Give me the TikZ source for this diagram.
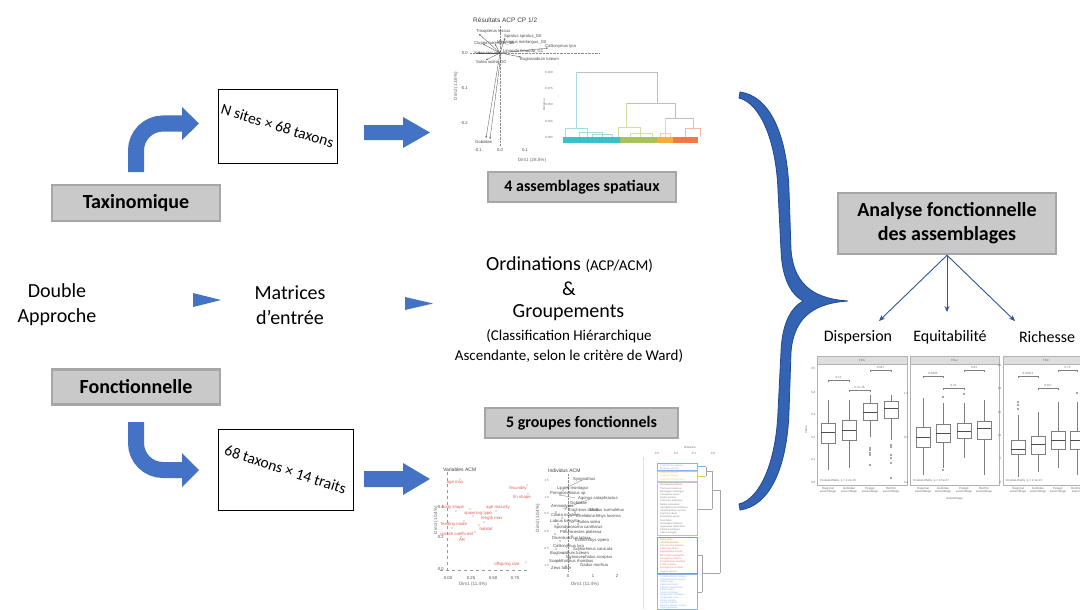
\documentclass[tikz,border=0pt]{standalone}
\usepackage{fontspec}
\setmainfont{Carlito}
\newfontfamily\plotfont{Liberation Sans}
\usetikzlibrary{arrows.meta}
\definecolor{arrowblue}{HTML}{4472C4}
\definecolor{bracefill}{HTML}{3463B3}
\definecolor{braceedge}{HTML}{1F4A93}
\definecolor{boxgray}{HTML}{C9C9C9}
\definecolor{boxedge}{HTML}{A6A6A6}
\definecolor{linkblue}{HTML}{2F5597}
\definecolor{acmred}{HTML}{E0605A}
\definecolor{dcyan}{HTML}{3CC0CC}
\definecolor{dgreen}{HTML}{A8C25E}
\definecolor{dorange}{HTML}{F6AE3A}
\definecolor{dred}{HTML}{F2784A}
\definecolor{pcyan}{HTML}{A6DCDF}
\definecolor{pgreen}{HTML}{CFE0A6}
\definecolor{porange}{HTML}{F8D293}
\definecolor{pred}{HTML}{F6B7A0}
\definecolor{lblue}{HTML}{8DB3E2}
\definecolor{lyellow}{HTML}{EBCB63}
\definecolor{lred}{HTML}{E07A72}
\definecolor{navy}{HTML}{2A2F8A}
\newcommand\mybxp[6]{%
  \draw[bxline] (#1,#2) -- (#1,#3) (#1,#5) -- (#1,#6);
  \draw[bxline, fill=white] (#1-7,#3) rectangle (#1+7,#5);
  \draw[bxmed] (#1-7,#4) -- (#1+7,#4);}
\newcommand\mypbr[4]{%
  \draw[bxline] (#1,#3+2) -- (#1,#3) -- (#2,#3) -- (#2,#3+2);
  \node[ttxt] at ({(#1+#2)/2},#3-2.8) {#4};}
\newcommand\myout[2]{\fill[black!70] (#1,#2) circle (0.8);}
\begin{document}
\begin{tikzpicture}[x=1pt,y=-1pt,
  graybox/.style={draw=boxedge, fill=boxgray, line width=2.5pt, inner sep=0pt, align=center, font=\bfseries\fontsize{20}{24}\selectfont},
  matbox/.style={draw=black, line width=0.9pt, fill=white, inner sep=0pt, font=\fontsize{15.5}{18}\selectfont},
  lbl/.style={inner sep=0pt, align=center, font=\fontsize{20}{25}\selectfont},
  sublbl/.style={inner sep=0pt, align=center, font=\fontsize{15}{18}\selectfont},
  indlbl/.style={inner sep=0pt, font=\fontsize{16}{19}\selectfont},
  curvarrow/.style={draw=arrowblue, line width=16pt},
  thinarrow/.style={draw=linkblue, line width=0.9pt, -{Stealth[length=6pt,width=5pt]}},
  ptitle/.style={inner sep=0pt, font=\plotfont\fontsize{6.5}{7}\selectfont, text=black!75},
  ptxt/.style={inner sep=0pt, font=\plotfont\fontsize{4.2}{5}\selectfont, text=black!70},
  atxt/.style={inner sep=0pt, font=\plotfont\fontsize{4.6}{5}\selectfont, text=black!60},
  rtxt/.style={inner sep=0pt, font=\plotfont\fontsize{4.3}{5}\selectfont, text=acmred},
  ttxt/.style={inner sep=0pt, font=\plotfont\fontsize{3}{3.4}\selectfont, text=black!55},
  leaf/.style={inner sep=0pt, anchor=west, font=\plotfont\fontsize{2.4}{3}\selectfont},
  pdot/.style={densely dotted, draw=black!45, line width=0.4pt},
  pdash/.style={dashed, draw=black!40, line width=0.4pt},
  pvec/.style={draw=black!65, line width=0.35pt, -{Stealth[length=2pt,width=1.6pt]}},
  dlink/.style={line width=0.6pt},
  bxline/.style={draw=black!50, line width=0.35pt},
  bxmed/.style={draw=black!70, line width=0.8pt},
  pframe/.style={draw=black!30, line width=0.4pt},
  pstrip/.style={draw=black!30, fill=black!13, line width=0.4pt}
]
\useasboundingbox (0,0) rectangle (1080,610);
\fill[white] (0,0) rectangle (1080,610);

% ---------------- left column
\node[graybox, minimum width=168pt, minimum height=36pt] (taxo) at (136,203) {Taxinomique};
\node[graybox, minimum width=168pt, minimum height=35pt] (fonc) at (136,387) {Fonctionnelle};
\node[lbl] (dbl) at (57,305) {Double\\Approche};
\node[lbl] (mat) at (290,305) {Matrices\\d’entrée};

% curved block arrows
\draw[curvarrow, rounded corners=27pt] (136,172) -- (136,123.5) -- (184,123.5);
\fill[arrowblue] (182,107) -- (199,123.5) -- (182,140) -- cycle;
\draw[curvarrow, rounded corners=27pt] (136,422) -- (136,470) -- (184,470);
\fill[arrowblue] (182,453) -- (199,470) -- (182,487) -- cycle;

% matrices boxes
\node[matbox, minimum width=119pt, minimum height=74pt] (m1) at (277.5,126) {\rotatebox{-17}{N sites × 68 taxons}};
\node[matbox, minimum width=135pt, minimum height=81pt] (m2) at (285.5,469.5) {\rotatebox{-18}{68 taxons × 14 traits}};

% straight block arrows
\fill[arrowblue] (364,125) -- (403,125) -- (403,117) -- (430,132.5) -- (403,148) -- (403,140) -- (364,140) -- cycle;
\fill[arrowblue] (364,471) -- (403,471) -- (403,463) -- (430,479) -- (403,495) -- (403,487) -- (364,487) -- cycle;

% small triangles
\fill[arrowblue] (193,293) -- (221,300) -- (193,307) -- cycle;
\fill[arrowblue] (405,297) -- (433,303.5) -- (405,310) -- cycle;

% centre texts
\node[lbl] (ord) at (569.5,265) {Ordinations {\fontsize{15}{18}\selectfont(ACP/ACM)}};
\node[lbl] (amp) at (569,289) {\&};
\node[lbl] (grp) at (568.5,313) {Groupements};
\node[sublbl] (cla) at (569,336) {(Classification Hiérarchique};
\node[sublbl] (asc) at (569,356) {Ascendante, selon le critère de Ward)};

\node[graybox, font=\bfseries\fontsize{16}{19}\selectfont, minimum width=188pt, minimum height=30pt] (assem) at (582,187) {4 assemblages spatiaux};
\node[graybox, font=\bfseries\fontsize{16}{19}\selectfont, minimum width=193pt, minimum height=30pt] (grpf) at (581.5,423) {5 groupes fonctionnels};

% ---------------- ACP plot
\node[ptitle, anchor=west] (acpT) at (473,20) {Résultats ACP CP 1/2};
\draw[pdot] (500,26) -- (500,146);
\draw[pdot] (470,53) -- (600,53);
\node[ptxt, anchor=east] at (468,53) {0.0};
\node[ptxt, anchor=east] at (468,88) {-0.1};
\node[ptxt, anchor=east] at (468,123) {-0.2};
\node[ptxt] at (478,150) {-0.1};
\node[ptxt] at (500,150) {0.0};
\node[ptxt] at (525,150) {0.1};
\node[atxt] at (532,160) {Dim1 (28.5\%)};
\node[atxt, rotate=90] at (456,86) {Dim2 (13.8\%)};
\coordinate (o) at (500,53);
\draw[pvec] (o) -- (479,34);
\draw[pvec] (o) -- (505,38);
\draw[pvec] (o) -- (483,44);
\draw[pvec] (o) -- (495,44);
\draw[pvec] (o) -- (548,48);
\draw[pvec] (o) -- (478,53);
\draw[pvec] (o) -- (486,60);
\draw[pvec] (o) -- (521,57);
\draw[pvec] (o) -- (486,138);
\draw[pvec] (501,54) -- (490,139);
\node[ptxt, anchor=west] at (476,31) {Trisopterus luscus};
\node[ptxt, anchor=west] at (504,36) {Spratus spratus\_G0};
\node[ptxt, anchor=west] at (474,43) {Clupea harengus\_G0};
\node[ptxt, anchor=west] at (497,42) {Merlangius merlangus\_G0};
\node[ptxt, anchor=west] at (545,46.5) {Callionymus lyra};
\node[ptxt, anchor=west] at (474,53) {Solea lascaris};
\node[ptxt, anchor=west] at (503,51) {Limanda limanda\_G1};
\node[ptxt, anchor=west] at (476,62) {Solea solea\_G0};
\node[ptxt, anchor=west] at (520,59) {Buglossidium luteum};
\node[ptxt, anchor=west] at (475,142) {Gobiidae};

% ---------------- top dendrogram
\node[ttxt, anchor=east] at (553,72) {0.100};
\node[ttxt, anchor=east] at (553,88) {0.075};
\node[ttxt, anchor=east] at (553,104) {0.050};
\node[ttxt, anchor=east] at (553,121) {0.025};
\node[ttxt, anchor=east] at (553,137) {0.000};
\node[ttxt, rotate=90] at (544,105) {Distance};
\draw[dlink, draw=black!25] (576,72) -- (657,72) -- (657,103);
\draw[dlink, draw=pcyan] (576,72) -- (576,128);
\draw[dlink, draw=pcyan] (565,137) -- (565,128) -- (587,128) -- (587,137);
\draw[dlink, draw=pcyan] (579,137) -- (579,132) -- (602,132) -- (602,137);
\draw[dlink, draw=pcyan] (592,137) -- (592,134) -- (612,134) -- (612,137);
\draw[dlink, draw=black!25] (626,103) -- (675,103);
\draw[dlink, draw=pgreen] (626,103) -- (626,127);
\draw[dlink, draw=pgreen] (618,137) -- (618,127) -- (640,127) -- (640,137);
\draw[dlink, draw=pgreen] (630,137) -- (630,133) -- (652,133) -- (652,137);
\draw[dlink, draw=black!25] (675,103) -- (675,118);
\draw[dlink, draw=black!25] (665,118) -- (693,118);
\draw[dlink, draw=porange] (665,118) -- (665,137);
\draw[dlink, draw=porange] (660,137) -- (660,133) -- (670,133) -- (670,137);
\draw[dlink, draw=pred] (693,118) -- (693,128);
\draw[dlink, draw=pred] (685,137) -- (685,128) -- (700,128) -- (700,137);
\fill[dcyan] (563,137) rectangle (620,143);
\fill[dgreen] (620,137) rectangle (657,143);
\fill[dorange] (657,137) rectangle (673,143);
\fill[dred] (673,137) rectangle (698,143);

% ---------------- Variables ACM
\node[ptitle, anchor=west, font=\plotfont\fontsize{5}{6}\selectfont] at (443,470) {Variables ACM};
\draw[pdash] (447,472) -- (447,572);
\draw[pdash] (440,570) -- (530,570);
\node[ptxt, anchor=east] at (444,507) {0.4};
\node[ptxt, anchor=east] at (444,537) {0.2};
\node[ptxt, anchor=east] at (444,569) {0.0};
\node[ptxt] at (448,578) {0.00};
\node[ptxt] at (471,578) {0.25};
\node[ptxt] at (493,578) {0.50};
\node[ptxt] at (515,578) {0.75};
\node[atxt] at (473,584) {Dim1 (11.4\%)};
\node[atxt, rotate=90] at (436,520) {Dim2 (10.4\%)};
\foreach \px/\py in {460/479,527/485,528/494,456/511,496/511,473/516,484/522,464/521,479/525,475/532,461/537,526/562,452/528,470/509}
  \fill[acmred] (\px,\py) circle (0.6);
\node[rtxt] at (455,483) {age max};
\node[rtxt] at (518,488) {fecundity};
\node[rtxt] at (522,497) {fin shape};
\node[rtxt] at (453,507) {body shape};
\node[rtxt] at (498,507) {age maturity};
\node[rtxt] at (478,513) {spawning type};
\node[rtxt] at (492,518.5) {length max};
\node[rtxt] at (454,524.5) {feeding mode};
\node[rtxt] at (486,529) {habitat};
\node[rtxt] at (457,534) {growth coefficient};
\node[rtxt] at (462,540) {AR};
\node[rtxt] at (507,564) {offspring size};

% ---------------- Individus ACM
\node[ptitle, anchor=west, font=\plotfont\fontsize{5}{6}\selectfont] at (548,471) {Individus ACM};
\draw[pdot] (568,474) -- (568,572);
\foreach \ty/\tl in {480/1.5,497/1.0,513/0.5,531/0.0,548/-0.5,565/-1.0}
  \node[ttxt, anchor=east] at (549,\ty) {\tl};
\node[ptxt] at (568,576) {0};
\node[ptxt] at (593,576) {1};
\node[ptxt] at (617,576) {2};
\node[atxt] at (585,584) {Dim1 (11.4\%)};
\node[atxt, rotate=90] at (538,518) {Dim2 (10.4\%)};
\foreach \px/\py in {563/490,560/495,566/509,556/512,562/518,571/516,558/524,566/530,555/534,572/536,560/541,568/545,556/549,563/553,570/558,558/561,566/566,575/512,578/524}
  \fill[navy] (\px,\py) circle (0.6);
\draw[black!50, line width=0.3pt] (566,488) -- (582,480) (560,495) -- (575,498) (563,509) -- (590,499);
\node[ptxt, anchor=west] at (573,479) {Syngnathus};
\node[ptxt, anchor=west] at (557,488) {Liparis montagui};
\node[ptxt, anchor=west] at (550,493) {Pomatoschistus sp};
\node[ptxt, anchor=west] at (578,498) {Agonus cataphractus};
\node[ptxt, anchor=west] at (570,503) {Gobiidae};
\node[ptxt, anchor=west] at (551,506) {Ammodytes};
\node[ptxt, anchor=west] at (568,510) {Trachinus draco};
\node[ptxt, anchor=west] at (590,510) {Mullus surmuletus};
\node[ptxt, anchor=west] at (551,515) {Ciliata mustela};
\node[ptxt, anchor=west] at (576,516) {Chelidonichthys lucerna};
\node[ptxt, anchor=west] at (550,521) {Labrus bergylta};
\node[ptxt, anchor=west] at (578,522) {Solea solea};
\node[ptxt, anchor=west] at (554,527) {Spondyliosoma cantharus};
\node[ptxt, anchor=west] at (560,532) {Pleuronectes platessa};
\node[ptxt, anchor=west] at (552,538) {Dicentrarchus labrax};
\node[ptxt, anchor=west] at (575,540) {Echiichthys vipera};
\node[ptxt, anchor=west] at (553,546) {Callionymus lyra};
\node[ptxt, anchor=west] at (573,549) {Scyliorhinus canicula};
\node[ptxt, anchor=west] at (550,553) {Buglossidium luteum};
\node[ptxt, anchor=west] at (566,557) {Myoxocephalus scorpius};
\node[ptxt, anchor=west] at (549,561) {Scophthalmus rhombus};
\node[ptxt, anchor=west] at (580,565) {Gadus morhua};
\node[ptxt, anchor=west] at (551,568) {Zeus faber};

% ---------------- vertical dendrogram
\node[ttxt] at (690,447) {Distance};
\foreach \tx/\tl in {657/0.3,676/0.2,694/0.1,713/0.0}
  \node[ttxt] at (\tx,453) {\tl};
\draw[black!12, line width=0.4pt] (643,457) -- (643,609);
\draw[lblue, line width=0.3pt] (657,463) rectangle (697,470.5);
\draw[lyellow, line width=0.3pt] (657,471.5) rectangle (697,481);
\draw[black!25, line width=0.3pt] (657,482.5) rectangle (697,535.5);
\draw[lred, line width=0.3pt] (657,537) rectangle (697,573);
\draw[lblue, line width=0.3pt] (657,574.5) rectangle (697,609);
\foreach \i/\nm in {0/Scyliorhinus canicula,1/Mustelus asterias}
  \node[leaf, text=lblue] at (660,465.5+3.25*\i) {\nm};
\foreach \i/\nm in {0/Sprattus sprattus,1/Clupea harengus,2/Engraulis encrasicolus}
  \node[leaf, text=lyellow] at (660,473+3.25*\i) {\nm};
\foreach \i/\nm in {0/Dicentrarchus labrax,1/Trachurus trachurus,2/Merlangius merlangus,3/Trisopterus luscus,4/Gadus morhua,5/Pollachius pollachius,6/Mullus surmuletus,7/Spondyliosoma cantharus,8/Chelidonichthys lucerna,9/Trachinus draco,10/Echiichthys vipera,11/Zeus faber,12/Ammodytes tobianus,13/Hyperoplus lanceolatus,14/Atherina presbyter,15/Labrus bergylta}
  \node[leaf, text=black!50] at (660,485+3.2*\i) {\nm};
\foreach \i/\nm in {0/Solea solea,1/Limanda limanda,2/Pleuronectes platessa,3/Platichthys flesus,4/Buglossidium luteum,5/Microchirus variegatus,6/Arnoglossus laterna,7/Scophthalmus rhombus,8/Psetta maxima,9/Dicologlossa cuneata,10/Pegusa lascaris}
  \node[leaf, text=lred] at (660,539.5+3.2*\i) {\nm};
\foreach \i/\nm in {0/Pomatoschistus minutus,1/Pomatoschistus lozanoi,2/Gobius niger,3/Callionymus lyra,4/Agonus cataphractus,5/Liparis liparis,6/Liparis montagui,7/Syngnathus rostellatus,8/Syngnathus acus,9/Ciliata mustela,10/Taurulus bubalis,11/Myoxocephalus scorpius,12/Pholis gunnellus}
  \node[leaf, text=lblue] at (660,577+2.6*\i) {\nm};
\draw[lblue, line width=0.4pt] (697,466.5) -- (706,466.5);
\draw[lyellow, line width=0.4pt] (697,476) -- (706,476);
\draw[black!35, line width=0.4pt] (706,466.5) -- (706,476);
\draw[black!35, line width=0.4pt] (706,471) -- (712,471) (697,509) -- (712,509) (712,471) -- (712,509);
\draw[black!35, line width=0.4pt] (697,555) -- (702,555) (697,592) -- (702,592) (702,555) -- (702,592);
\draw[black!35, line width=0.4pt] (712,490) -- (720,490) (702,573) -- (720,573) (720,490) -- (720,573);

% ---------------- brace
\filldraw[fill=bracefill, draw=braceedge, line width=0.8pt]
  (740,92) .. controls (770,96) and (787,135) .. (789,190)
  -- (791,250) .. controls (794,288) and (818,299) .. (848,301)
  .. controls (818,303) and (794,314) .. (791,352)
  -- (789,412) .. controls (787,467) and (770,506) .. (740,510)
  -- (739,504) .. controls (760,499) and (776,462) .. (778,412)
  -- (781,352) .. controls (782,322) and (792,307) .. (803,301)
  .. controls (792,295) and (782,280) .. (781,250)
  -- (778,190) .. controls (776,140) and (760,103) .. (739,98) -- cycle;

% ---------------- right column
\node[graybox, minimum width=218pt, minimum height=61pt] (ana) at (947,223.5) {Analyse fonctionnelle\\des assemblages};
\node[indlbl] (disp) at (858,337) {Dispersion};
\node[indlbl] (equi) at (950,337) {Equitabilité};
\node[indlbl] (rich) at (1047,337) {Richesse};
\coordinate (eD) at (879,321);
\coordinate (eE) at (947,312);
\coordinate (eR) at (1015,321);
\draw[thinarrow] (ana.south) -- (eD);
\draw[thinarrow] (ana.south) -- (eE);
\draw[thinarrow] (ana.south) -- (eR);

% ---------------- boxplots
\draw[pframe] (817,364) rectangle (907,485);
\draw[pstrip] (817,356) rectangle (907,364);
\node[ttxt] at (862,360) {FDis};
\draw[pframe] (910,364) rectangle (999,485);
\draw[pstrip] (910,356) rectangle (999,364);
\node[ttxt] at (954.5,360) {FEve};
\draw[pframe] (1003,364) rectangle (1090,485);
\draw[pstrip] (1003,356) rectangle (1090,364);
\node[ttxt] at (1046,360) {FRic};
\foreach \ty/\tl in {368/0.5,392/0.4,414/0.3,437/0.2,459/0.1,482/0.0}
  \node[ttxt, anchor=east] at (815.5,\ty) {\tl};
\foreach \ty/\tl in {393/1.0,437/0.5,482/0.0}
  \node[ttxt, anchor=east] at (908.5,\ty) {\tl};
\foreach \ty/\tl in {365/25,388/20,412/15,435/10,458/5,482/0}
  \node[ttxt, anchor=east] at (1001.5,\ty) {\tl};
\node[ttxt, rotate=90] at (806,430) {Value};
\mybxp{828}{470}{443}{432}{423}{400}
\mybxp{849}{468}{440}{430}{420}{400}
\mybxp{870}{437}{420}{412}{403}{395}
\mybxp{891}{440}{418}{408}{401}{395}
\foreach \oy in {448,450,453,455,465} {\myout{870}{\oy}}
\foreach \oy in {445,447,455,458,463,478} {\myout{891}{\oy}}
\mypbr{828}{849}{380}{0.11}
\mypbr{849}{870}{390}{2.7e-15}
\mypbr{870}{891}{370}{0.047}
\node[ttxt, anchor=west] at (820,481) {Kruskal-Wallis, p \textless{} 2.2e-16};
\mybxp{923}{475}{447}{437}{427}{398}
\mybxp{943}{468}{442}{433}{424}{403}
\mybxp{964}{458}{438}{431}{423}{403}
\mybxp{984}{475}{439}{428}{421}{400}
\myout{943}{397}\myout{943}{470}\myout{964}{394}
\mypbr{923}{943}{376}{0.0005}
\mypbr{943}{964}{388}{0.41}
\mypbr{964}{984}{370}{0.63}
\node[ttxt, anchor=west] at (913,481) {Kruskal-Wallis, p = 2.5e-07};
\mybxp{1018}{477}{454}{449}{440}{415}
\mybxp{1038}{472}{454}{444}{436}{412}
\mybxp{1058}{468}{449}{440}{431}{402}
\mybxp{1077}{475}{449}{440}{431}{402}
\myout{1018}{402}\myout{1018}{405}\myout{1018}{409}\myout{1077}{393}
\mypbr{1018}{1038}{376}{0.00011}
\mypbr{1038}{1058}{388}{0.017}
\mypbr{1058}{1077}{370}{0.72}
\node[ttxt, anchor=west] at (1006,481) {Kruskal-Wallis, p = 2.1e-13};
\foreach \bx/\nm in {828/Diagonal,849/Gobiidae,870/Pelagic,891/Benthic,923/Diagonal,943/Gobiidae,964/Pelagic,984/Benthic,1018/Diagonal,1038/Gobiidae,1058/Pelagic}
  \node[ttxt, align=center, anchor=north] at (\bx,487) {\nm\\assemblage};
\node[ttxt, align=center, anchor=north west] at (1071,487) {Benthic\\assem};
\node[ttxt] at (954.5,499) {Assemblage};
\end{tikzpicture}
\end{document}
